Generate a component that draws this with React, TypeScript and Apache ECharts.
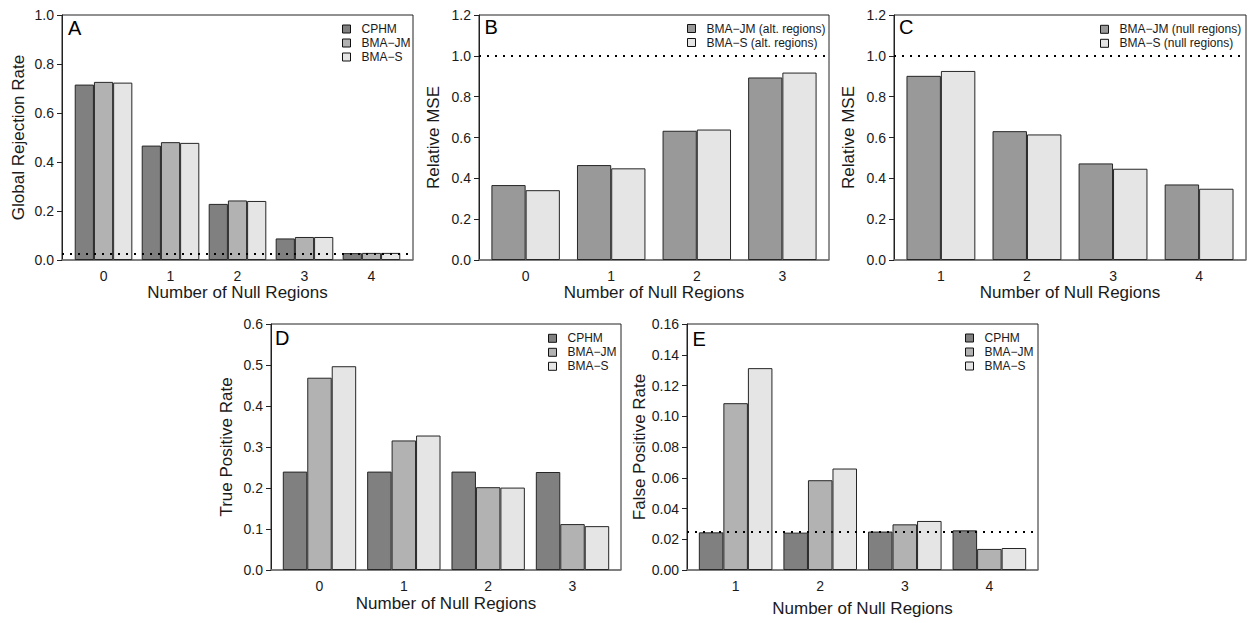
import { useEffect, useRef } from "react";
import * as echarts from "echarts";

const FONT = "'Liberation Sans', Arial, Helvetica, sans-serif";
const TEXT = "#1a1a1a";

// A: global rejection rate by number of null regions
const regionsA = [0, 1, 2, 3, 4];
const rejectCPHM = [0.716, 0.467, 0.229, 0.088, 0.028];
const rejectBMAJM = [0.727, 0.481, 0.243, 0.094, 0.029];
const rejectBMAS = [0.724, 0.478, 0.241, 0.094, 0.029];

// B: relative MSE in the alternative regions
const regionsB = [0, 1, 2, 3];
const mseAltJM = [0.367, 0.465, 0.633, 0.894];
const mseAltS = [0.342, 0.449, 0.639, 0.918];

// C: relative MSE in the null regions
const regionsC = [1, 2, 3, 4];
const mseNullJM = [0.902, 0.631, 0.473, 0.37];
const mseNullS = [0.926, 0.615, 0.447, 0.349];

// D: true positive rate
const regionsD = [0, 1, 2, 3];
const tprCPHM = [0.24, 0.24, 0.24, 0.239];
const tprBMAJM = [0.469, 0.316, 0.202, 0.112];
const tprBMAS = [0.497, 0.328, 0.201, 0.107];

// E: false positive rate
const regionsE = [1, 2, 3, 4];
const fprCPHM = [0.0245, 0.0243, 0.025, 0.0258];
const fprBMAJM = [0.1085, 0.0584, 0.0297, 0.0137];
const fprBMAS = [0.1313, 0.066, 0.0319, 0.0143];

// reference levels
const nominalLevel = 0.025;
const mseBaseline = 1.0;

const X_TITLE = "Number of Null Regions";

const DARK = "#808080";
const MID = "#b2b2b2";
const MID_DARK = "#999999";
const LIGHT = "#e5e5e5";

type Bars = { name: string; values: number[]; color: string };
type Panel = {
  letter: string;
  frame: { left: number; top: number; width: number; height: number };
  xRange: [number, number];
  yMax: number;
  yStep: number;
  yDigits: number;
  yTitle: string;
  yNameGap: number;
  xNameGap: number;
  letterPos: [number, number];
  legendPos: [number, number];
  gap: string;
  cats: number[];
  bars: Bars[];
  refLine?: number;
};

const panels: Panel[] = [
  {
    letter: "A",
    frame: { left: 62, top: 15, width: 351, height: 245 },
    xRange: [-0.62, 4.62],
    yMax: 1,
    yStep: 0.2,
    yDigits: 1,
    yTitle: "Global Rejection Rate",
    yNameGap: 35.5,
    xNameGap: 24,
    letterPos: [68, 18],
    legendPos: [342, 22],
    gap: "14%",
    cats: regionsA,
    bars: [
      { name: "CPHM", values: rejectCPHM, color: DARK },
      { name: "BMA−JM", values: rejectBMAJM, color: MID },
      { name: "BMA−S", values: rejectBMAS, color: LIGHT },
    ],
    refLine: nominalLevel,
  },
  {
    letter: "B",
    frame: { left: 479, top: 15, width: 350, height: 245 },
    xRange: [-0.545, 3.545],
    yMax: 1.2,
    yStep: 0.2,
    yDigits: 1,
    yTitle: "Relative MSE",
    yNameGap: 37.5,
    xNameGap: 24,
    letterPos: [484.5, 17.3],
    legendPos: [687, 21.5],
    gap: "20%",
    cats: regionsB,
    bars: [
      { name: "BMA−JM (alt. regions)", values: mseAltJM, color: MID_DARK },
      { name: "BMA−S (alt. regions)", values: mseAltS, color: LIGHT },
    ],
    refLine: mseBaseline,
  },
  {
    letter: "C",
    frame: { left: 894, top: 15, width: 352, height: 245 },
    xRange: [0.455, 4.545],
    yMax: 1.2,
    yStep: 0.2,
    yDigits: 1,
    yTitle: "Relative MSE",
    yNameGap: 37.5,
    xNameGap: 24,
    letterPos: [899, 16.6],
    legendPos: [1100, 22.3],
    gap: "20%",
    cats: regionsC,
    bars: [
      { name: "BMA−JM (null regions)", values: mseNullJM, color: MID_DARK },
      { name: "BMA−S (null regions)", values: mseNullS, color: LIGHT },
    ],
    refLine: mseBaseline,
  },
  {
    letter: "D",
    frame: { left: 271, top: 324, width: 350, height: 246 },
    xRange: [-0.575, 3.575],
    yMax: 0.6,
    yStep: 0.1,
    yDigits: 1,
    yTitle: "True Positive Rate",
    yNameGap: 36,
    xNameGap: 24.5,
    letterPos: [275, 328],
    legendPos: [548, 331.3],
    gap: "13%",
    cats: regionsD,
    bars: [
      { name: "CPHM", values: tprCPHM, color: DARK },
      { name: "BMA−JM", values: tprBMAJM, color: MID },
      { name: "BMA−S", values: tprBMAS, color: LIGHT },
    ],
  },
  {
    letter: "E",
    frame: { left: 687, top: 324, width: 351, height: 246 },
    xRange: [0.425, 4.575],
    yMax: 0.16,
    yStep: 0.02,
    yDigits: 2,
    yTitle: "False Positive Rate",
    yNameGap: 39,
    xNameGap: 29.5,
    letterPos: [692.5, 329],
    legendPos: [965, 331],
    gap: "13%",
    cats: regionsE,
    bars: [
      { name: "CPHM", values: fprCPHM, color: DARK },
      { name: "BMA−JM", values: fprBMAJM, color: MID },
      { name: "BMA−S", values: fprBMAS, color: LIGHT },
    ],
    refLine: nominalLevel,
  },
];

function buildOption() {
  const grid: any[] = [];
  const xAxis: any[] = [];
  const yAxis: any[] = [];
  const legend: any[] = [];
  const series: any[] = [];
  const graphic: any[] = [];

  panels.forEach((p, i) => {
    grid.push({
      left: p.frame.left,
      top: p.frame.top,
      width: p.frame.width,
      height: p.frame.height,
      show: true,
      borderColor: "#222",
      borderWidth: 1,
      backgroundColor: "transparent",
      containLabel: false,
    });

    xAxis.push({
      type: "value",
      gridIndex: i,
      min: p.xRange[0],
      max: p.xRange[1],
      axisLine: { show: true, onZero: false, lineStyle: { color: "#7a7a7a", width: 1.5 } },
      axisTick: { show: false },
      splitLine: { show: false },
      axisLabel: {
        customValues: p.cats,
        formatter: (v: number) => String(v),
        fontSize: 14,
        margin: 9,
        color: TEXT,
        fontFamily: FONT,
      },
      name: X_TITLE,
      nameLocation: "middle",
      nameGap: p.xNameGap,
      nameTextStyle: { fontSize: 17, color: TEXT, fontFamily: FONT },
    });

    yAxis.push({
      type: "value",
      gridIndex: i,
      min: 0,
      max: p.yMax,
      interval: p.yStep,
      axisLine: { show: true, onZero: false, lineStyle: { color: "#222", width: 1 } },
      axisTick: { show: true, length: 5, lineStyle: { color: "#222", width: 1 } },
      splitLine: { show: false },
      axisLabel: {
        fontSize: 14,
        margin: 8,
        color: TEXT,
        fontFamily: FONT,
        formatter: (v: number) => v.toFixed(p.yDigits),
      },
      name: p.yTitle,
      nameLocation: "middle",
      nameRotate: 90,
      nameGap: p.yNameGap,
      nameTextStyle: { fontSize: 17, color: TEXT, fontFamily: FONT },
    });

    legend.push({
      orient: "vertical",
      left: p.legendPos[0],
      top: p.legendPos[1],
      padding: 0,
      itemGap: 0,
      itemWidth: 8,
      itemHeight: 8,
      icon: "rect",
      selectedMode: false,
      data: p.bars.map((b) => b.name),
      itemStyle: { borderColor: "#111", borderWidth: 1 },
      textStyle: {
        fontSize: 12,
        lineHeight: 14,
        color: TEXT,
        fontFamily: FONT,
        padding: [0, 0, 0, 6],
      },
    });

    p.bars.forEach((b, k) => {
      const s: any = {
        type: "bar",
        name: b.name,
        xAxisIndex: i,
        yAxisIndex: i,
        barGap: "0%",
        barCategoryGap: p.gap,
        data: p.cats.map((c, j) => [c, b.values[j]]),
        itemStyle: { color: b.color, borderColor: "#262626", borderWidth: 1 },
        emphasis: { disabled: true },
      };
      if (k === 0 && p.refLine !== undefined) {
        s.markLine = {
          silent: true,
          precision: 6,
          symbol: ["none", "none"],
          label: { show: false },
          lineStyle: { type: [2, 6], color: "#000", width: 2 },
          data: [{ yAxis: p.refLine }],
        };
      }
      series.push(s);
    });

    graphic.push({
      type: "text",
      x: p.letterPos[0],
      y: p.letterPos[1],
      style: {
        text: p.letter,
        fontSize: 20,
        fontFamily: FONT,
        fill: "#000",
        verticalAlign: "top",
      },
    });
  });

  return {
    animation: false,
    backgroundColor: "#ffffff",
    grid,
    xAxis,
    yAxis,
    legend,
    series,
    graphic,
  };
}

export default function App() {
  const ref = useRef<HTMLDivElement>(null);

  useEffect(() => {
    if (!ref.current) return;
    const chart = echarts.init(ref.current, undefined, { renderer: "svg" });
    chart.setOption(buildOption() as any);
    return () => {
      chart.dispose();
    };
  }, []);

  return (
    <div
      ref={ref}
      style={{ position: "fixed", left: 0, top: 0, width: 1248, height: 623, background: "#fff" }}
    />
  );
}
